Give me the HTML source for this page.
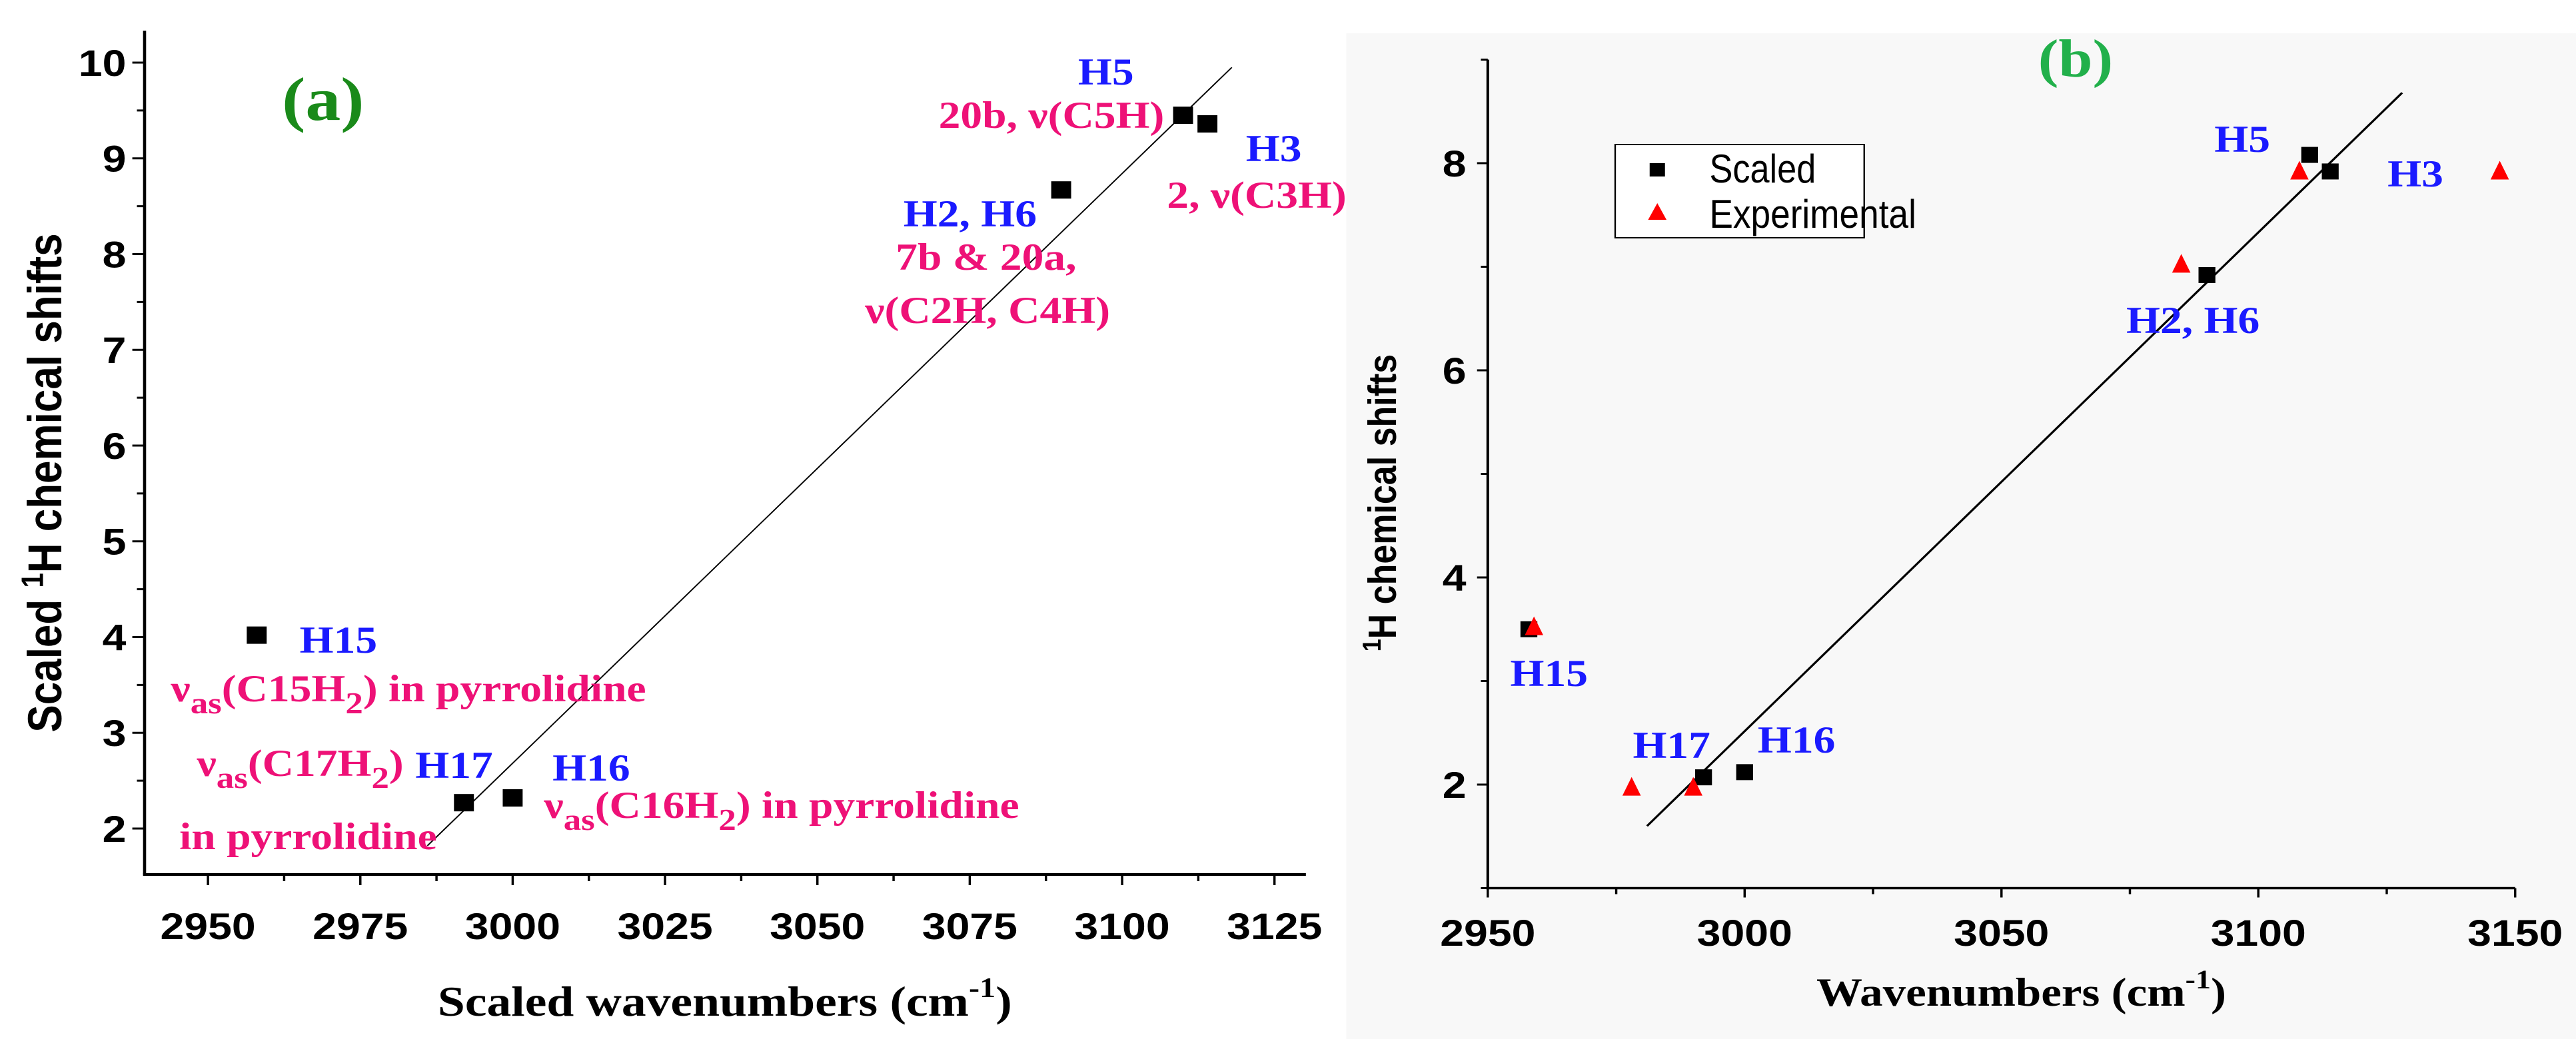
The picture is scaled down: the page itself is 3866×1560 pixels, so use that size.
<!DOCTYPE html>
<html><head><meta charset="utf-8"><style>
html,body{margin:0;padding:0;background:#fff;}
svg{display:block;}
.tk{font-family:"Liberation Sans",Arial,sans-serif;font-weight:bold;font-size:56px;fill:#000;}
.lb{font-family:"Liberation Serif","Times New Roman",serif;font-weight:bold;font-size:57px;}
.bl{fill:#1a1aff;} .pk{fill:#ee1177;}
</style></head><body>
<svg id="svg" width="3866" height="1560" viewBox="0 0 3362 1560" preserveAspectRatio="none" xmlns="http://www.w3.org/2000/svg">
<rect x="1757" y="50" width="1605" height="1510" fill="#f8f8f8"/>
<g id="pa"></g>
<g id="pb"></g>
<!-- Panel a labels -->
<text class="lb" x="368" y="180" style="font-size:92px;fill:#1a8a1a">(a)</text>
<text class="lb bl" x="1407" y="127">H5</text>
<text class="lb pk" x="1225" y="192">20b, ν(C5H)</text>
<text class="lb bl" x="1626" y="242">H3</text>
<text class="lb pk" x="1523" y="312">2, ν(C3H)</text>
<text class="lb bl" x="1179" y="340">H2, H6</text>
<text class="lb pk" x="1169" y="405">7b &amp; 20a,</text>
<text class="lb pk" x="1129" y="485">ν(C2H, C4H)</text>
<text class="lb bl" x="391" y="980">H15</text>
<text class="lb pk" x="223" y="1053">ν<tspan dy="18" font-size="46">as</tspan><tspan dy="-18">(C15H</tspan><tspan dy="18" font-size="46">2</tspan><tspan dy="-18">) in pyrrolidine</tspan></text>
<text class="lb pk" x="257" y="1165">ν<tspan dy="18" font-size="46">as</tspan><tspan dy="-18">(C17H</tspan><tspan dy="18" font-size="46">2</tspan><tspan dy="-18">)</tspan></text>
<text class="lb bl" x="542" y="1168">H17</text>
<text class="lb pk" x="234" y="1275">in pyrrolidine</text>
<text class="lb bl" x="721" y="1172">H16</text>
<text class="lb pk" x="710" y="1228">ν<tspan dy="18" font-size="46">as</tspan><tspan dy="-18">(C16H</tspan><tspan dy="18" font-size="46">2</tspan><tspan dy="-18">) in pyrrolidine</tspan></text>
<text class="lb" x="946" y="1525" text-anchor="middle" style="font-size:64px">Scaled wavenumbers (cm<tspan dy="-28" font-size="42">-1</tspan><tspan dy="28">)</tspan></text>
<text class="tk" transform="translate(80,725) rotate(-90)" text-anchor="middle" style="font-size:62px">Scaled <tspan dy="-24" font-size="40">1</tspan><tspan dy="24">H chemical shifts</tspan></text>
<!-- Panel b labels -->
<text class="lb" x="2660" y="115" style="font-size:80px;fill:#22b04b">(b)</text>
<text class="lb bl" x="2890" y="228">H5</text>
<text class="lb bl" x="3116" y="280">H3</text>
<text class="lb bl" x="2775" y="500">H2, H6</text>
<text class="lb bl" x="1971" y="1030">H15</text>
<text class="lb bl" x="2131" y="1138">H17</text>
<text class="lb bl" x="2294" y="1130">H16</text>
<text class="lb" x="2638" y="1510" text-anchor="middle" style="font-size:60px">Wavenumbers (cm<tspan dy="-26" font-size="40">-1</tspan><tspan dy="26">)</tspan></text>
<text class="tk" transform="translate(1822,755) rotate(-90)" text-anchor="middle" style="font-size:52px"><tspan dy="-20" font-size="34">1</tspan><tspan dy="20">H chemical shifts</tspan></text>
<g>
<rect x="2108" y="217" width="325" height="140" fill="#fff" stroke="#000" stroke-width="2"/>
<rect x="2153" y="245" width="20" height="20" fill="#000"/>
<text x="2231" y="274" textLength="139" lengthAdjust="spacingAndGlyphs" style="font-family:'Liberation Sans',sans-serif;font-size:60px">Scaled</text>
<polygon points="2163,305 2151,330 2175,330" fill="#ff0000"/>
<text x="2231" y="342" textLength="270" lengthAdjust="spacingAndGlyphs" style="font-family:'Liberation Sans',sans-serif;font-size:60px">Experimental</text>
</g>
</svg>
<script>
// Panel (a) data
const aX = [2958, 2992, 3000, 3090, 3110, 3114];
const aY = [4.02, 2.27, 2.32, 8.67, 9.45, 9.36];
const aFitX = [2986, 3118];
const aFitY = [1.82, 9.95];
const aXTicks = [2950, 2975, 3000, 3025, 3050, 3075, 3100, 3125];
const aYTicks = [2, 3, 4, 5, 6, 7, 8, 9, 10];
// Panel (b) data
const bScX = [2958, 2992, 3000, 3090, 3110, 3114];
const bScY = [3.50, 2.07, 2.12, 6.92, 8.08, 7.92];
const bExX = [2959, 2978, 2990, 3085, 3108, 3147];
const bExY = [3.52, 1.97, 1.97, 7.02, 7.92, 7.92];
const bFitX = [2981, 3128];
const bFitY = [1.60, 8.68];
const bXTicks = [2950, 3000, 3050, 3100, 3150];
const bYTicks = [2, 4, 6, 8];

const NS = "http://www.w3.org/2000/svg";
const S = 1.15;
function mk(par, tag, at){const e=document.createElementNS(NS,tag);for(const k in at)e.setAttribute(k,at[k]);par.appendChild(e);return e;}
// Panel a axes
const ax = v => (217 + (v - 2939.6) * 9.147) / S;
const ay = v => 1244 - (v - 2) * 143.75;
const pa = document.getElementById('pa');
let e;
e = mk(pa,'line',{x1:ax(2939.6),y1:46,x2:ax(2939.6),y2:1313,stroke:'#000','stroke-width':4});
 
e = mk(pa,'line',{x1:ax(2939.6)-2,y1:1313,x2:1960/S,y2:1313,stroke:'#000','stroke-width':4});
 
for (let v = 2; v <= 10.01; v += 0.5) {
  const maj = Math.abs(v - Math.round(v)) < 0.01;
  e = mk(pa,'line',{x1:ax(2939.6),y1:ay(v),x2:ax(2939.6)-(maj?16:10),y2:ay(v),stroke:'#000','stroke-width':3});
   
}
aYTicks.forEach(v => {
  e = mk(pa,'text',{x:ax(2939.6)-24,y:ay(v)+20,'text-anchor':'end',class:'tk'}); e.textContent = v;
   
});
for (let v = 2950; v <= 3135; v += 12.5) {
  const maj = v % 25 === 0;
  e = mk(pa,'line',{x1:ax(v),y1:1313,x2:ax(v),y2:1313+(maj?16:10),stroke:'#000','stroke-width':3});
   
}
aXTicks.forEach(v => {
  e = mk(pa,'text',{x:ax(v),y:1410,'text-anchor':'middle',class:'tk'}); e.textContent = v;
   
});
e = mk(pa,'line',{x1:ax(aFitX[0]),y1:ay(aFitY[0]),x2:ax(aFitX[1]),y2:ay(aFitY[1]),stroke:'#000','stroke-width':1.8});
 
aX.forEach((v,i) => {
  e = mk(pa,'rect',{x:ax(v)-13,y:ay(aY[i])-13,width:26,height:26,fill:'#000'});
   
});
// Panel b axes
const bx = v => (2233 + (v - 2950) * 7.71) / S;
const by = v => 1178 - (v - 2) * 155.5;
const pb = document.getElementById('pb');
e = mk(pb,'line',{x1:bx(2950),y1:by(9),x2:bx(2950),y2:by(1),stroke:'#000','stroke-width':3.5});
 
e = mk(pb,'line',{x1:bx(2950)-2,y1:by(1),x2:bx(3150),y2:by(1),stroke:'#000','stroke-width':3.5});
 
for (let v = 1; v <= 9; v++) {
  const maj = v % 2 === 0;
  e = mk(pb,'line',{x1:bx(2950),y1:by(v),x2:bx(2950)-(maj?14:9),y2:by(v),stroke:'#000','stroke-width':3});
   
}
bYTicks.forEach(v => {
  e = mk(pb,'text',{x:bx(2950)-28,y:by(v)+20,'text-anchor':'end',class:'tk'}); e.textContent = v;
   
});
for (let v = 2950; v <= 3150; v += 25) {
  const maj = v % 50 === 0;
  e = mk(pb,'line',{x1:bx(v),y1:by(1),x2:bx(v),y2:by(1)+(maj?14:9),stroke:'#000','stroke-width':3});
   
}
bXTicks.forEach(v => {
  e = mk(pb,'text',{x:bx(v),y:1420,'text-anchor':'middle',class:'tk'}); e.textContent = v;
   
});
e = mk(pb,'line',{x1:bx(bFitX[0]),y1:by(bFitY[0]),x2:bx(bFitX[1]),y2:by(bFitY[1]),stroke:'#000','stroke-width':3});
 
bScX.forEach((v,i) => {
  e = mk(pb,'rect',{x:bx(v)-11,y:by(bScY[i])-12,width:22,height:24,fill:'#000'});
   
});
bExX.forEach((v,i) => {
  const cx = bx(v), cy = by(bExY[i]);
  e = mk(pb,'polygon',{points:`${cx},${cy-16} ${cx-12},${cy+12} ${cx+12},${cy+12}`,fill:'#ff0000'});
   
});
</script>
</body></html>
